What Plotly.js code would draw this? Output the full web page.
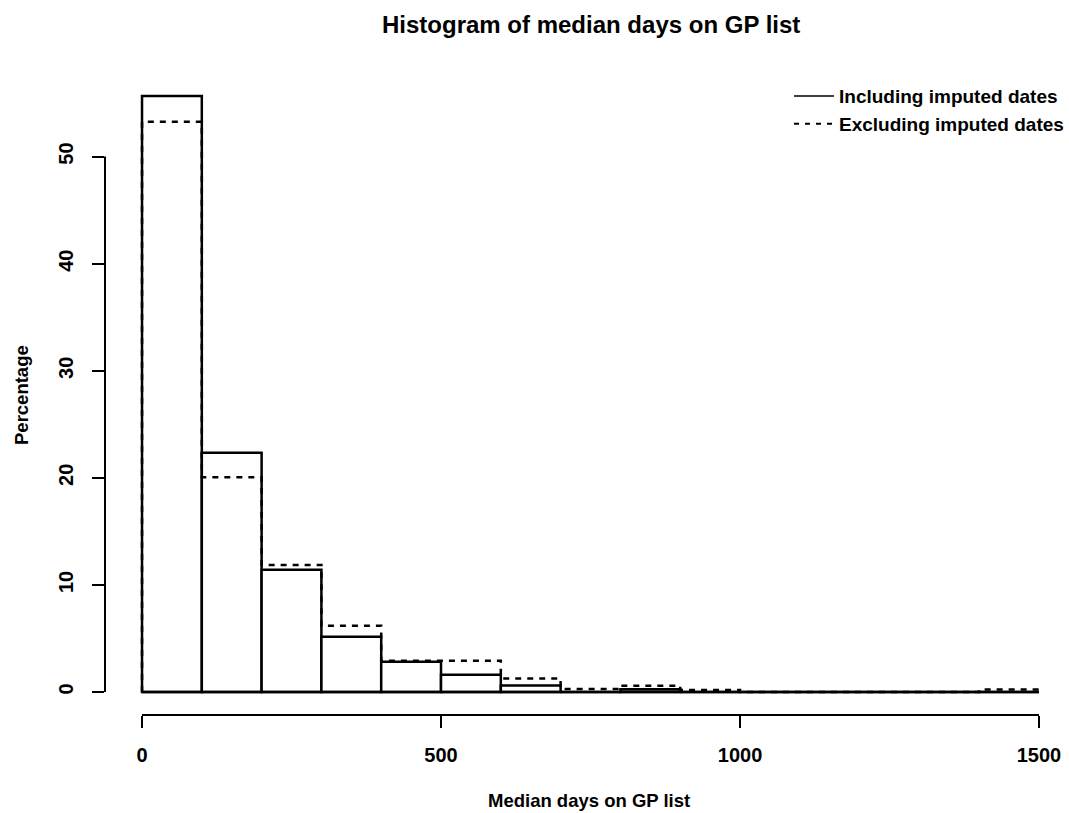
<!DOCTYPE html>
<html>
<head>
<meta charset="utf-8">
<script src="https://cdn.plot.ly/plotly-3.0.1.min.js"></script>
<style>
html,body{margin:0;padding:0;background:#fff;}
#chart{width:1069px;height:813px;}
</style>
</head>
<body>
<div id="chart"></div>
<script>
// Bin left edges (days) and bin width
const binLeft = [0, 100, 200, 300, 400, 500, 600, 700, 800, 900, 1000, 1100, 1200, 1300, 1400];
const binWidth = 100;
// Percentages per bin
const includingImputed = [55.65, 22.34, 11.42, 5.16, 2.83, 1.62, 0.60, 0, 0.25, 0, 0, 0, 0, 0, 0];
const excludingImputed = [53.25, 20.05, 11.86, 6.19, 2.92, 2.92, 1.27, 0.28, 0.59, 0.19, 0, 0, 0, 0, 0.22];
// Tick values
const xTicks = [0, 500, 1000, 1500];
const yTicks = [0, 10, 20, 30, 40, 50];

const FONT = '"Liberation Sans", Arial, Helvetica, sans-serif';
const LW = 2.5;

const lastEdge = binLeft[binLeft.length - 1] + binWidth;

// Including: white bars with black outline
const barTrace = {
  type: 'bar',
  x: binLeft.map(b => b + binWidth / 2),
  y: includingImputed,
  width: binLeft.map(() => binWidth),
  marker: {color: '#ffffff', line: {color: '#000000', width: LW}},
  showlegend: false,
  hoverinfo: 'skip'
};

// Baseline of the zero-height bars
const baseTrace = {
  type: 'scatter', mode: 'lines',
  x: [binLeft[0], lastEdge], y: [0, 0],
  line: {color: '#000000', width: LW},
  showlegend: false, hoverinfo: 'skip'
};

// Excluding: dashed step outline
const stepX = [binLeft[0]].concat(binLeft, [lastEdge, lastEdge]);
const stepY = [0].concat(excludingImputed, [excludingImputed[excludingImputed.length - 1], 0]);
const dashTrace = {
  type: 'scatter', mode: 'lines',
  x: stepX, y: stepY,
  line: {color: '#000000', width: LW, dash: '6px,6px', shape: 'hv'},
  name: 'Excluding imputed dates',
  showlegend: false, hoverinfo: 'skip'
};

// Legend entries
const legSolid = {
  type: 'scatter', mode: 'lines', x: [null], y: [null],
  line: {color: '#000000', width: 1.5},
  name: 'Including imputed dates', showlegend: true
};
const legDash = {
  type: 'scatter', mode: 'lines', x: [null], y: [null],
  line: {color: '#000000', width: 2, dash: '5px,6px'},
  name: 'Excluding imputed dates', showlegend: true
};

const layout = {
  width: 1069, height: 813,
  margin: {l: 105, r: 0, t: 72, b: 98},
  paper_bgcolor: '#ffffff', plot_bgcolor: '#ffffff',
  font: {family: FONT, size: 19, color: '#000000', weight: 'bold'},
  title: {
    text: 'Histogram of median days on GP list',
    font: {family: FONT, size: 24, color: '#000000', weight: 'bold'},
    x: 0.553, xref: 'container', xanchor: 'center',
    y: 1 - 25 / 813, yref: 'container', yanchor: 'middle'
  },
  showlegend: true,
  legend: {
    x: 1, xanchor: 'right', y: 0.992, yanchor: 'top',
    bgcolor: 'rgba(0,0,0,0)', borderwidth: 0,
    itemwidth: 40,
    font: {family: FONT, size: 19, color: '#000000', weight: 'bold'},
    tracegroupgap: 0
  },
  xaxis: {
    range: [-61.9, (1069 - 142) / 0.598],
    tickvals: xTicks, ticktext: xTicks.map(String),
    ticks: 'outside', ticklen: 12, tickwidth: 2, tickcolor: '#000000',
    showline: false, showgrid: false, zeroline: false,
    tickfont: {family: FONT, size: 20, color: '#000000', weight: 'bold'},
    ticklabelstandoff: 10,
    fixedrange: true
  },
  yaxis: {
    range: [-2.15, 57.9],
    tickvals: yTicks, ticktext: yTicks.map(String),
    ticks: 'outside', ticklen: 12, tickwidth: 2, tickcolor: '#000000',
    tickangle: -90,
    showline: false, showgrid: false, zeroline: false,
    tickfont: {family: FONT, size: 20, color: '#000000', weight: 'bold'},
    ticklabelstandoff: 11,
    fixedrange: true
  },
  shapes: [
    {type: 'line', xref: 'paper', yref: 'y', x0: 0, x1: 0,
     y0: yTicks[0], y1: yTicks[yTicks.length - 1], line: {color: '#000000', width: 2}},
    {type: 'line', xref: 'x', yref: 'paper', y0: 0, y1: 0,
     x0: xTicks[0], x1: xTicks[xTicks.length - 1], line: {color: '#000000', width: 2}}
  ],
  annotations: [
    {text: 'Median days on GP list', xref: 'paper', yref: 'paper',
     x: (589 - 105) / 964, y: (715 - 800) / 643, xanchor: 'center', yanchor: 'middle',
     showarrow: false, font: {family: FONT, size: 18.5, color: '#000000', weight: 'bold'}},
    {text: 'Percentage', xref: 'paper', yref: 'paper', textangle: -90,
     x: (22 - 105) / 964, y: (715 - 395) / 643, xanchor: 'center', yanchor: 'middle',
     showarrow: false, font: {family: FONT, size: 18.5, color: '#000000', weight: 'bold'}}
  ]
};

Plotly.newPlot('chart', [barTrace, baseTrace, dashTrace, legSolid, legDash], layout,
  {displayModeBar: false, staticPlot: true});
</script>
</body>
</html>
